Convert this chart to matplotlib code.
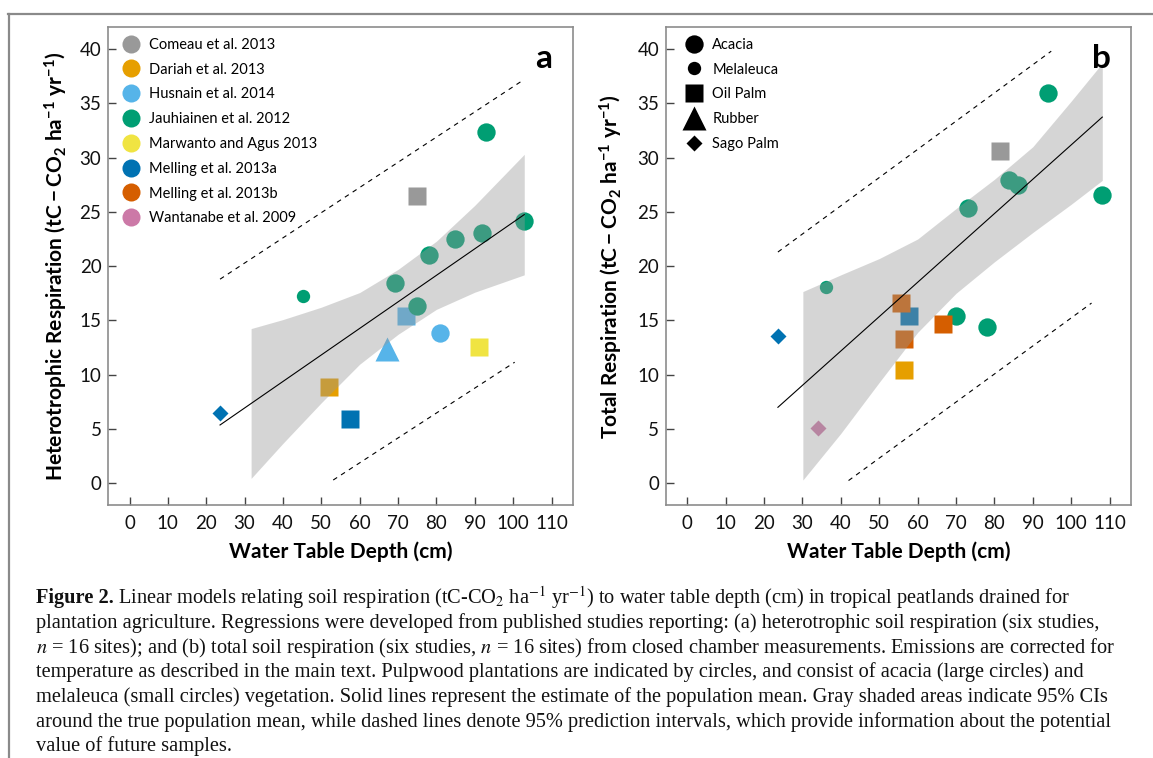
import matplotlib
matplotlib.use("Agg")
import matplotlib.pyplot as plt
from matplotlib.lines import Line2D

plt.rcParams["font.family"] = ["Lato", "DejaVu Sans"]
plt.rcParams["mathtext.fontset"] = "custom"
plt.rcParams["mathtext.rm"] = "Lato"
plt.rcParams["mathtext.it"] = "Lato:italic"
plt.rcParams["mathtext.bf"] = "Lato:bold"

# Estudios y colores
studies = ["Comeau et al. 2013", "Dariah et al. 2013", "Husnain et al. 2014",
           "Jauhiainen et al. 2012", "Marwanto and Agus 2013", "Melling et al. 2013a",
           "Melling et al. 2013b", "Wantanabe et al. 2009"]
study_colors = ["#999999", "#E69F00", "#56B4E9", "#009E73",
                "#F0E442", "#0072B2", "#D55E00", "#CC79A7"]

crops = ["Acacia", "Melaleuca", "Oil Palm", "Rubber", "Sago Palm"]

# Panel a: respiracion heterotrofica
a_depth = [74.9, 52.0, 72.1, 81.0, 67.0, 92.9, 102.9, 91.9, 84.9, 78.0, 69.1, 74.9, 45.1,
           91.1, 57.5, 23.6]
a_resp = [26.5, 8.9, 15.4, 13.8, 12.4, 32.35, 24.2, 23.05, 22.5, 21.05, 18.45, 16.35, 17.25,
          12.55, 5.9, 6.45]
a_study = [0, 1, 2, 2, 2, 3, 3, 3, 3, 3, 3, 3, 3, 4, 5, 5]
a_crop = [2, 2, 2, 0, 3, 0, 0, 0, 0, 0, 0, 0, 1, 2, 2, 4]

a_fit_x = [23.6, 102.9]
a_fit_y = [5.37, 24.75]
a_pi_up_x = [23.6, 102.9]
a_pi_up_y = [18.8, 37.2]
a_pi_lo_x = [53.1, 100.4]
a_pi_lo_y = [0.3, 11.15]
a_ci_x = [31.7, 40, 50, 60, 70, 80, 90, 102.9]
a_ci_hi = [14.25, 15.08, 16.22, 17.57, 19.7, 22.3, 25.6, 30.3]
a_ci_lo = [0.45, 3.68, 7.42, 10.97, 13.72, 16.02, 17.6, 19.2]

# Panel b: respiracion total
b_depth = [94.0, 83.9, 86.1, 108.1, 73.0, 70.0, 78.1, 36.0, 81.4, 57.7, 23.6,
           55.6, 56.4, 66.5, 56.4, 34.0]
b_resp = [35.94, 27.95, 27.46, 26.54, 25.37, 15.42, 14.41, 18.12, 30.6, 15.42, 13.6,
          16.59, 13.3, 14.65, 10.44, 5.13]
b_study = [3, 3, 3, 3, 3, 3, 3, 3, 0, 5, 5, 6, 6, 6, 1, 7]
b_crop = [0, 0, 0, 0, 0, 0, 0, 1, 2, 2, 4, 2, 2, 2, 2, 4]

b_fit_x = [23.6, 108.1]
b_fit_y = [7.0, 33.73]
b_pi_up_x = [23.6, 94.8]
b_pi_up_y = [21.3, 39.8]
b_pi_lo_x = [42.0, 105.3]
b_pi_lo_y = [0.25, 16.6]
b_ci_x = [30.1, 40, 50, 60, 70, 80, 90, 100, 108.1]
b_ci_hi = [17.66, 19.2, 20.7, 22.5, 25.3, 28.0, 31.0, 35.2, 38.7]
b_ci_lo = [0.3, 4.6, 9.3, 13.9, 17.5, 20.4, 23.1, 25.7, 27.9]

xticks = list(range(0, 111, 10))
yticks = list(range(0, 41, 5))

# estilo de marcador por cultivo
crop_marker = ["o", "o", "s", "^", "D"]
crop_size = [13.2, 9.6, 13.5, 17.0, 8.2]

W, H = 1153, 758
fig = plt.figure(figsize=(W / 100, H / 100), dpi=100)
ax_a = fig.add_axes([108.4 / W, 1 - 505 / H, 464.2 / W, 477.7 / H])
ax_b = fig.add_axes([666.2 / W, 1 - 505 / H, 464.5 / W, 477.7 / H])

unit = r"$\mathbf{(tC - CO_2\ ha^{-1}\ yr^{-1})}$"


def draw_panel(ax, depth, resp, study, crop, fit_x, fit_y, up_x, up_y, lo_x, lo_y,
               ci_x, ci_hi, ci_lo, letter, ylabel):
    # puntos, en orden de estudio
    for s in range(len(studies)):
        for i in range(len(depth)):
            if study[i] != s:
                continue
            ax.plot(depth[i], resp[i], ls="none", marker=crop_marker[crop[i]],
                    ms=crop_size[crop[i]], color=study_colors[s], mec="none", zorder=2)
    ax.fill_between(ci_x, ci_lo, ci_hi, color="#989898", alpha=0.4, lw=0, zorder=3)
    ax.plot(fit_x, fit_y, color="black", lw=0.8, zorder=4)
    ax.plot(up_x, up_y, color="black", lw=0.8, dashes=(4.2, 4.2), zorder=4)
    ax.plot(lo_x, lo_y, color="black", lw=0.8, dashes=(4.2, 4.2), zorder=4)

    ax.set_xlim(-5.5, 115.5)
    ax.set_ylim(-2, 42)
    ax.set_xticks(xticks)
    ax.set_yticks(yticks)
    ax.tick_params(direction="in", length=5.5, width=1, color="#444444",
                   labelsize=13.5, labelcolor="#111111")
    ax.tick_params(axis="x", pad=7)
    ax.tick_params(axis="y", pad=5)
    for sp in ax.spines.values():
        sp.set_color("#8c8c8c")
        sp.set_linewidth(1.2)
    ax.set_xlabel("Water Table Depth (cm)", fontsize=15, fontweight="bold")
    ax.set_ylabel(ylabel, fontsize=15, fontweight="bold")
    ax.xaxis.label.set_va("center")
    ax.yaxis.label.set_va("center")
    ax.xaxis.set_label_coords(0.5, -0.098)
    ax.text(0.937, 0.935, letter, transform=ax.transAxes, fontsize=24,
            fontweight="bold", ha="center", va="center")


draw_panel(ax_a, a_depth, a_resp, a_study, a_crop, a_fit_x, a_fit_y, a_pi_up_x, a_pi_up_y,
           a_pi_lo_x, a_pi_lo_y, a_ci_x, a_ci_hi, a_ci_lo, "a",
           "Heterotrophic Respiration " + unit)
draw_panel(ax_b, b_depth, b_resp, b_study, b_crop, b_fit_x, b_fit_y, b_pi_up_x, b_pi_up_y,
           b_pi_lo_x, b_pi_lo_y, b_ci_x, b_ci_hi, b_ci_lo, "b",
           "Total Respiration " + unit)
ax_a.yaxis.set_label_coords(-0.113, 0.5)
ax_b.yaxis.set_label_coords(-0.117, 0.5)

# leyendas
h_a = [Line2D([], [], ls="none", marker="o", ms=13, color=c, mec="none")
       for c in study_colors]
ax_a.legend(h_a, studies, loc="upper left", bbox_to_anchor=(0.034, 0.978), frameon=False,
            fontsize=10.5, handlelength=1.0, handletextpad=0.7, labelspacing=0.74,
            borderpad=0, borderaxespad=0)
h_b = [Line2D([], [], ls="none", marker=crop_marker[k], ms=crop_size[k], color="black",
              mec="none") for k in range(len(crops))]
ax_b.legend(h_b, crops, loc="upper left", bbox_to_anchor=(0.044, 0.978), frameon=False,
            fontsize=10.5, handlelength=1.0, handletextpad=0.75, labelspacing=0.74,
            borderpad=0, borderaxespad=0)

# marco gris
fig.add_artist(Line2D([8 / W, 1], [1 - 14 / H, 1 - 14 / H], transform=fig.transFigure,
                      color="#8a8a8a", lw=1.6))
fig.add_artist(Line2D([8.5 / W, 8.5 / W], [0, 1 - 14 / H], transform=fig.transFigure,
                      color="#8a8a8a", lw=1.6))

# pie de figura
cap = dict(family=["Liberation Serif", "DejaVu Serif"], fontsize=14.7, math_fontfamily="stix",
           va="baseline", color="#111111")
bold = fig.text(35.5 / W, 1 - 603.5 / H, "Figure 2.", fontweight="bold", **cap)
fig.canvas.draw()
x_after = bold.get_window_extent().x1 + 4.5
lines = [
    r"Linear models relating soil respiration (tC-CO$_2$ ha$^{-1}$ yr$^{-1}$) to water table depth (cm) in tropical peatlands drained for",
    "plantation agriculture. Regressions were developed from published studies reporting: (a) heterotrophic soil respiration (six studies,",
    r"$n$ = 16 sites); and (b) total soil respiration (six studies, $n$ = 16 sites) from closed chamber measurements. Emissions are corrected for",
    "temperature as described in the main text. Pulpwood plantations are indicated by circles, and consist of acacia (large circles) and",
    "melaleuca (small circles) vegetation. Solid lines represent the estimate of the population mean. Gray shaded areas indicate 95% CIs",
    "around the true population mean, while dashed lines denote 95% prediction intervals, which provide information about the potential",
    "value of future samples.",
]
for k, t in enumerate(lines):
    x0 = x_after if k == 0 else 35.5
    fig.text(x0 / W, 1 - (603.5 + 24.6 * k) / H, t, **cap)

fig.savefig("out.png", dpi=100)
